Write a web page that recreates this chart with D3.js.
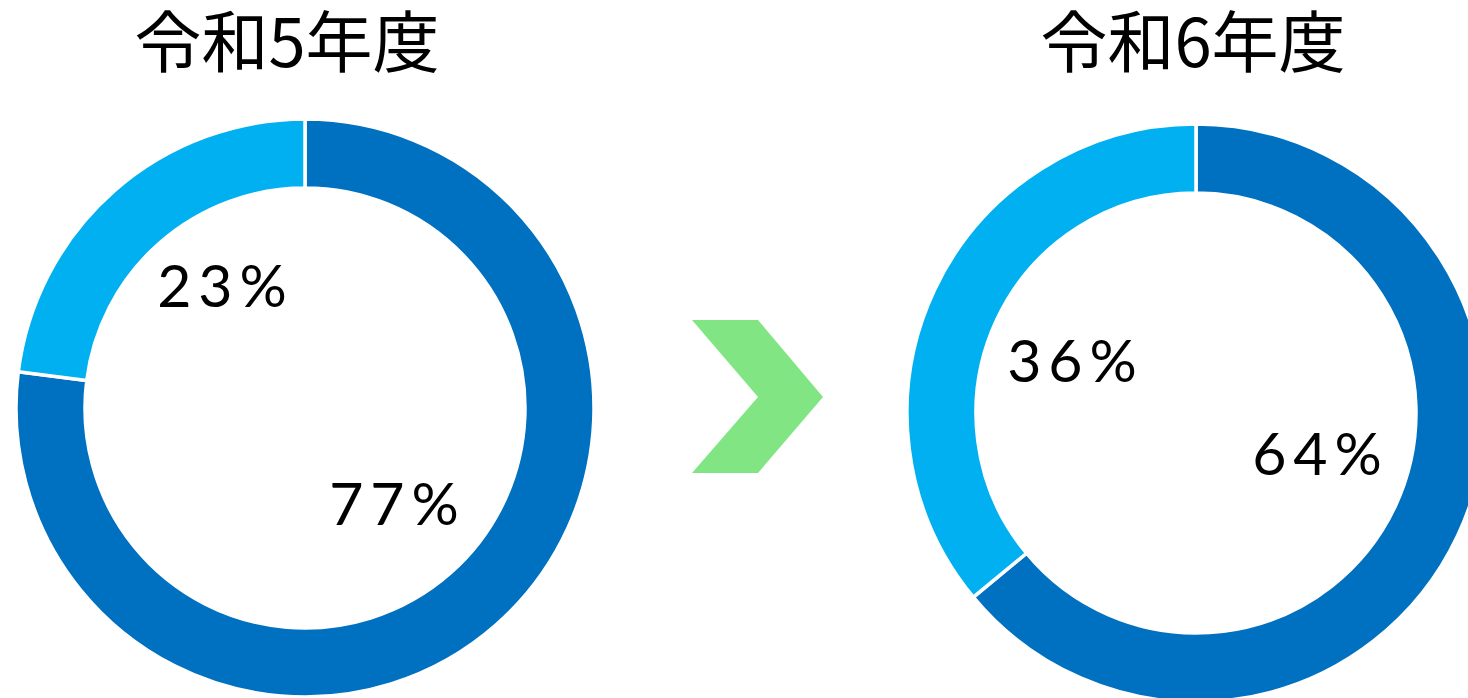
<!DOCTYPE html>
<html><head><meta charset="utf-8">
<script src="https://cdn.jsdelivr.net/npm/d3@7"></script>
<style>html,body{margin:0;padding:0;background:#fff;overflow:hidden}</style>
</head><body>
<svg id="c" width="1468" height="698"></svg>
<script>
const years = ["令和5年度", "令和6年度"];
const categories = ["A", "B"];
const values2023 = [77, 23];
const values2024 = [64, 36];
const labels2023 = ["77%", "23%"];
const labels2024 = ["64%", "36%"];
const colors = ["#0070C0", "#00B0F0"];

const svg = d3.select("#c");
const outerR = 289, innerR = 220;
const centers = [[305, 408], [1196, 413]];
const titleX = [287, 1193];
const labelPos = [
  [[394, 525], [222, 307]],
  [[1317, 475], [1072, 382]]
];
const datasets = [values2023, values2024];
const labelsets = [labels2023, labels2024];
const ls = 7;

const pie = d3.pie().sort(null).value(d => d);
const arc = d3.arc().innerRadius(innerR).outerRadius(outerR);
const color = d3.scaleOrdinal().domain(categories).range(colors);

datasets.forEach((vals, i) => {
  const g = svg.append("g").attr("transform", `translate(${centers[i][0]},${centers[i][1]})`);
  g.selectAll("path").data(pie(vals)).join("path")
    .attr("d", arc)
    .attr("fill", (d, j) => color(categories[j]))
    .attr("stroke", "#fff").attr("stroke-width", 3.5);
  svg.append("text").attr("x", titleX[i]).attr("y", 67)
    .attr("text-anchor", "middle")
    .attr("font-family", "'Noto Sans CJK JP', sans-serif")
    .attr("font-size", 67).attr("fill", "#000")
    .text(years[i]);
  labelsets[i].forEach((t, j) => {
    svg.append("text").attr("x", labelPos[i][j][0] + ls / 2).attr("y", labelPos[i][j][1])
      .attr("text-anchor", "middle")
      .attr("font-family", "Lato, sans-serif")
      .attr("font-size", 59).attr("letter-spacing", ls).attr("fill", "#000")
      .text(t);
  });
});

// arrow chevron
svg.append("polygon")
  .attr("points", "692,320 758,320 823,397 758,473 692,473 758,397")
  .attr("fill", "#82E584");
</script>
</body></html>
